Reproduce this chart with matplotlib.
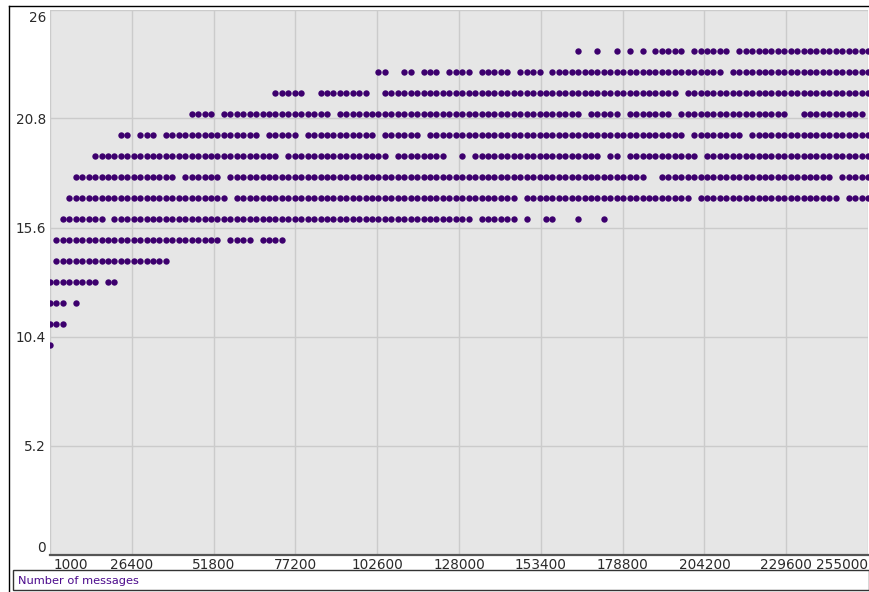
import matplotlib
matplotlib.use("Agg")
import matplotlib.pyplot as plt
from matplotlib.lines import Line2D
from matplotlib.patches import Rectangle
from matplotlib.transforms import ScaledTranslation

# Measurements are taken every SAMPLE_STEP messages; each row lists the
# message-count ranges (inclusive) where that value was observed.
SAMPLE_STEP = 2000
X_MIN, X_MAX = 1000, 255000
Y_MIN, Y_MAX = 0, 26

x_ticks = [1000, 26400, 51800, 77200, 102600, 128000, 153400,
           178800, 204200, 229600, 255000]
y_ticks = [0, 5.2, 10.4, 15.6, 20.8, 26]
y_tick_labels = ["0", "5.2", "10.4", "15.6", "20.8", "26"]

levels = [24, 23, 22, 21, 20, 19, 18, 17, 16, 15, 14, 13, 12, 11, 10]

runs_24 = [(165000, 165000), (171000, 171000), (177000, 177000),
           (181000, 181000), (185000, 185000), (189000, 197000),
           (201000, 211000), (215000, 255000)]
runs_23 = [(103000, 105000), (111000, 113000), (117000, 121000),
           (125000, 131000), (135000, 143000), (147000, 153000),
           (157000, 209000), (213000, 255000)]
runs_22 = [(71000, 79000), (85000, 99000), (105000, 195000), (199000, 255000)]
runs_21 = [(45000, 51000), (55000, 87000), (91000, 165000), (169000, 177000),
           (181000, 193000), (197000, 229000), (235000, 253000)]
runs_20 = [(23000, 25000), (29000, 33000), (37000, 65000), (69000, 77000),
           (81000, 101000), (105000, 115000), (119000, 197000),
           (201000, 215000), (219000, 255000)]
runs_19 = [(15000, 71000), (75000, 105000), (109000, 123000),
           (129000, 129000), (133000, 171000), (175000, 177000),
           (181000, 201000), (205000, 255000)]
runs_18 = [(9000, 39000), (43000, 53000), (57000, 185000), (191000, 243000),
           (247000, 255000)]
runs_17 = [(7000, 55000), (59000, 145000), (149000, 199000), (203000, 245000),
           (249000, 255000)]
runs_16 = [(5000, 17000), (21000, 131000), (135000, 145000), (149000, 149000),
           (155000, 157000), (165000, 165000), (173000, 173000)]
runs_15 = [(3000, 53000), (57000, 63000), (67000, 73000)]
runs_14 = [(3000, 37000)]
runs_13 = [(1000, 15000), (19000, 21000)]
runs_12 = [(1000, 5000), (9000, 9000)]
runs_11 = [(1000, 5000)]
runs_10 = [(1000, 1000)]

level_runs = [runs_24, runs_23, runs_22, runs_21, runs_20, runs_19, runs_18,
              runs_17, runs_16, runs_15, runs_14, runs_13, runs_12, runs_11,
              runs_10]

DOT_COLOR = "#3d006e"
BG_COLOR = "#e6e6e6"
GRID_COLOR = "#cbcbcb"

W, H = 869, 592
fig = plt.figure(figsize=(W / 100, H / 100), dpi=100)
fig.patch.set_facecolor("white")

left, right, top, bottom = 50, 868, 9.5, 554.5
ax = fig.add_axes([left / W, 1 - bottom / H, (right - left) / W, (bottom - top) / H])
ax.set_facecolor(BG_COLOR)

xs, ys = [], []
for level, runs in zip(levels, level_runs):
    for start, end in runs:
        for x in range(start, end + 1, SAMPLE_STEP):
            xs.append(x)
            ys.append(level)

ax.plot(xs, ys, linestyle="none", marker="o", markersize=4.6,
        markerfacecolor=DOT_COLOR, markeredgewidth=0, zorder=3)

ax.set_xlim(X_MIN, X_MAX)
ax.set_ylim(Y_MIN, Y_MAX)
ax.set_xticks(x_ticks)
ax.set_xticklabels([str(t) for t in x_ticks])
ax.set_yticks(y_ticks)
ax.set_yticklabels(y_tick_labels)

ax.grid(True, color=GRID_COLOR, linewidth=1.0, zorder=0)
ax.set_axisbelow(True)

for name in ("left", "right", "top"):
    ax.spines[name].set_visible(False)
ax.spines["bottom"].set_color("#555555")
ax.spines["bottom"].set_linewidth(1.6)

ax.tick_params(axis="both", length=0, labelsize=9.8, labelcolor="#2a2a2a")
ax.tick_params(axis="x", pad=2.5)
ax.tick_params(axis="y", pad=3)

# Keep the end labels inside the plot's extent
xl = ax.get_xticklabels()
xl[0].set_horizontalalignment("left")
xl[0].set_transform(xl[0].get_transform() + ScaledTranslation(4 / 100, 0, fig.dpi_scale_trans))
xl[-1].set_horizontalalignment("right")
yl = ax.get_yticklabels()
yl[0].set_verticalalignment("bottom")
yl[-1].set_verticalalignment("top")
yl[-1].set_transform(yl[-1].get_transform() + ScaledTranslation(0, -2 / 100, fig.dpi_scale_trans))

# Outer frame and the legend strip underneath the chart
def px_line(x0, y0, x1, y1, color, lw):
    fig.add_artist(Line2D([x0 / W, x1 / W], [1 - y0 / H, 1 - y1 / H],
                          color=color, linewidth=lw, transform=fig.transFigure))

px_line(8.5, 6, W, 6, "#000000", 1.0)
px_line(8.5, 6, 8.5, H, "#000000", 1.0)

fig.add_artist(Rectangle((12.5 / W, 1 - 590 / H), (W - 12.5) / W, 20 / H,
                         transform=fig.transFigure, facecolor="white",
                         edgecolor="#333333", linewidth=1.0))
fig.text(18 / W, 1 - 580.5 / H, "Number of messages", fontsize=8.2,
         color="#4b0a8c", ha="left", va="center")

fig.savefig("out.png", dpi=100)
